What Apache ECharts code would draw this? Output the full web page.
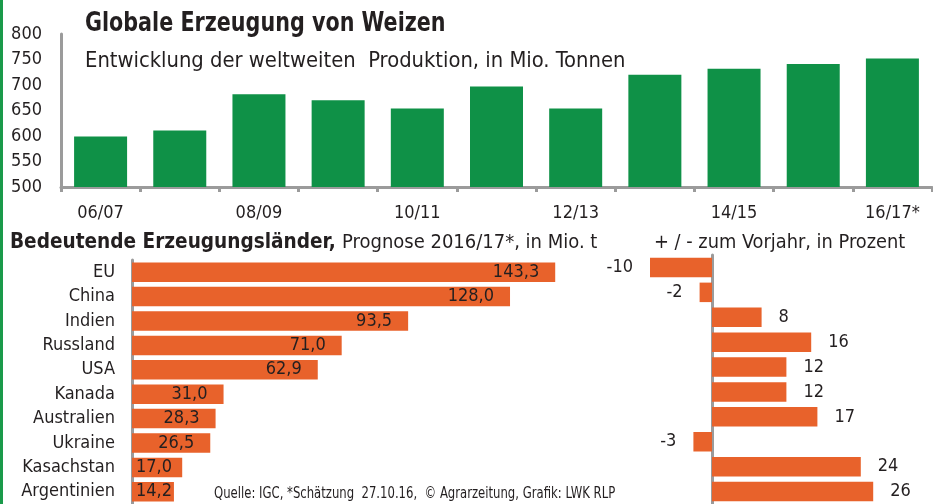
<!DOCTYPE html>
<html>
<head>
<meta charset="utf-8">
<script src="https://cdn.jsdelivr.net/npm/echarts@6/dist/echarts.min.js"></script>
<style>
html, body { margin: 0; padding: 0; background: #fff; }
#chart { width: 933px; height: 504px; }
</style>
</head>
<body>
<div id="chart"></div>
<script>
// Globale Erzeugung (Mio. t)
var jahre = ['06/07', '07/08', '08/09', '09/10', '10/11', '11/12', '12/13', '13/14', '14/15', '15/16', '16/17*'];
var erzeugung = [599, 611, 682, 670, 654, 697, 654, 720, 732, 741, 752];
var yMin = 500, yMax = 800, yStep = 50;

// Bedeutende Erzeugungslaender, Prognose 2016/17
var laender = ['EU', 'China', 'Indien', 'Russland', 'USA', 'Kanada', 'Australien', 'Ukraine', 'Kasachstan', 'Argentinien'];
var prognose = [143.3, 128.0, 93.5, 71.0, 62.9, 31.0, 28.3, 26.5, 17.0, 14.2];
// +/- zum Vorjahr in Prozent
var veraenderung = [-10, -2, 8, 16, 12, 12, 17, -3, 24, 26];

var FONT = '"DejaVu Sans Condensed", "Liberation Sans Narrow", sans-serif';
var TEXT = '#231f20';
var GRAU = '#9b9b9b';
var GRUEN = '#0f9147';
var ORANGE = '#e8622b';

var myChart = echarts.init(document.getElementById('chart'));

var prognoseData = prognose.map(function (v) {
    // kurze Balken: Wert links im Balken
    return v < 20 ? { value: v, label: { position: 'insideLeft', distance: 4 } } : v;
});
var veraenderungData = veraenderung.map(function (v) {
    return { value: v, label: { position: v < 0 ? 'left' : 'right' } };
});

// schmale Schrift nachbilden: Texte horizontal stauchen
function txt(x, y, s, font, sx) {
    return {
        type: 'text', x: x, y: y, scaleX: sx || 1,
        style: { text: s, font: font, fill: TEXT, verticalAlign: 'middle' }
    };
}

var option = {
    animation: false,
    textStyle: { fontFamily: FONT },
    graphic: [
        { type: 'rect', shape: { x: 0, y: 0, width: 3, height: 504 }, style: { fill: '#1a9a4a' } },
        txt(85, 24, 'Globale Erzeugung von Weizen', 'bold 26px ' + FONT, 0.885),
        txt(85, 61, 'Entwicklung der weltweiten  Produktion, in Mio. Tonnen', '22px ' + FONT, 0.99),
        txt(10, 243, 'Bedeutende Erzeugungsländer,', 'bold 21px ' + FONT, 0.98),
        txt(342, 243, 'Prognose 2016/17*, in Mio. t', '20px ' + FONT, 1),
        txt(654, 243, '+ / - zum Vorjahr, in Prozent', '20px ' + FONT, 0.99),
        txt(214, 494, 'Quelle: IGC, *Schätzung  27.10.16,  © Agrarzeitung, Grafik: LWK RLP', '16px ' + FONT, 0.81)
    ],
    grid: [
        { left: 61, top: 34, width: 871, height: 153 },
        { left: 132, top: 260, width: 443, height: 244 },
        { left: 619, top: 255, width: 310, height: 250 }
    ],
    xAxis: [
        {
            gridIndex: 0,
            type: 'category',
            data: jahre,
            axisLine: { lineStyle: { color: GRAU, width: 3 } },
            axisTick: { show: true, interval: 0, length: 5, lineStyle: { color: GRAU, width: 3 } },
            axisLabel: { interval: 1, fontSize: 18, color: TEXT, margin: 17, fontFamily: FONT }
        },
        { gridIndex: 1, type: 'value', min: 0, max: 150, show: false },
        { gridIndex: 2, type: 'value', min: -15, max: 35, show: false }
    ],
    yAxis: [
        {
            gridIndex: 0,
            type: 'value',
            min: yMin,
            max: yMax,
            interval: yStep,
            splitLine: { show: false },
            axisLine: { show: true, lineStyle: { color: GRAU, width: 3 } },
            axisTick: { show: false },
            axisLabel: { fontSize: 18, color: TEXT, margin: 19, fontFamily: FONT }
        },
        {
            gridIndex: 1,
            type: 'category',
            inverse: true,
            data: laender,
            axisLine: { lineStyle: { color: GRAU, width: 3 } },
            axisTick: { length: 7, lineStyle: { color: GRAU, width: 2 } },
            axisLabel: { interval: 0, fontSize: 18, color: TEXT, margin: 17, fontFamily: FONT }
        },
        {
            gridIndex: 2,
            type: 'category',
            inverse: true,
            data: laender,
            axisLine: { onZero: true, lineStyle: { color: GRAU, width: 3 } },
            axisTick: { length: 8, lineStyle: { color: GRAU, width: 2 } },
            axisLabel: { show: false }
        }
    ],
    series: [
        {
            name: 'Erzeugung',
            type: 'bar',
            xAxisIndex: 0,
            yAxisIndex: 0,
            barWidth: 53,
            itemStyle: { color: GRUEN },
            data: erzeugung
        },
        {
            name: 'Prognose',
            type: 'bar',
            xAxisIndex: 1,
            yAxisIndex: 1,
            barWidth: 19.5,
            itemStyle: { color: ORANGE },
            label: {
                show: true,
                position: 'insideRight',
                distance: 16,
                fontSize: 18,
                color: TEXT,
                fontFamily: FONT,
                formatter: function (p) { return p.value.toFixed(1).replace('.', ','); }
            },
            data: prognoseData
        },
        {
            name: 'Veränderung',
            type: 'bar',
            xAxisIndex: 2,
            yAxisIndex: 2,
            barWidth: 19.5,
            itemStyle: { color: ORANGE },
            label: {
                show: true,
                distance: 17,
                fontSize: 18,
                color: TEXT,
                fontFamily: FONT
            },
            data: veraenderungData
        }
    ]
};

myChart.setOption(option);
</script>
</body>
</html>
